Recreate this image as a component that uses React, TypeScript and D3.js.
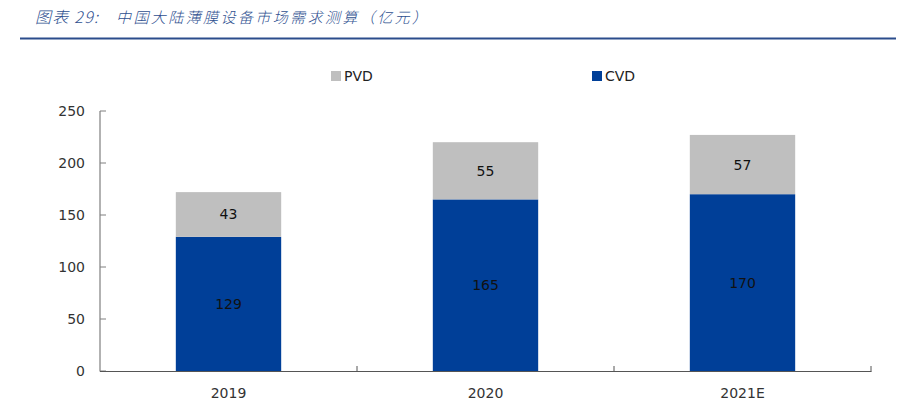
import React from "react";
import * as d3 from "d3";

const categories = ["2019", "2020", "2021E"];
const cvd = [129, 165, 170];
const pvd = [43, 55, 57];
const yTicks = [0, 50, 100, 150, 200, 250];
const seriesNames = ["PVD", "CVD"];
const titleLabel = "图表 29:";
const titleText = "中国大陆薄膜设备市场需求测算（亿元）";

const W = 898;
const H = 409;
const BLUE = "#003F98";
const GRAY = "#BFBFBF";
const FONT = "Tahoma, 'DejaVu Sans', Verdana, sans-serif";

export default function App() {
  const x = d3
    .scaleBand<string>()
    .domain(categories)
    .range([100, 871])
    .paddingInner(0.59)
    .paddingOuter(0.295);
  const y = d3.scaleLinear().domain([0, 250]).range([371, 111]);
  const step = x.step();
  const boundaries = categories.map((_, i) => 100 + step * (i + 1));

  return (
    <svg
      width={W}
      height={H}
      style={{ position: "absolute", left: 0, top: 0, background: "#fff" }}
      fontFamily={FONT}
    >
      <g fontStyle="italic" fill="#2E4F8F" fontFamily="'Noto Sans CJK SC', sans-serif" fontWeight={300}>
        <text x={35} y={23} fontSize={16} textLength={63} lengthAdjust="spacing">
          {titleLabel}
        </text>
        <text x={116} y={23} fontSize={15} textLength={311} lengthAdjust="spacing">
          {titleText}
        </text>
      </g>
      <line x1={20} x2={896} y1={38.5} y2={38.5} stroke="#2B4C8C" strokeWidth={2} />

      {/* legend */}
      <rect x={331} y={71} width={10} height={10} fill={GRAY} />
      <text x={344} y={81} fontSize={14} fill="#222">
        {seriesNames[0]}
      </text>
      <rect x={592} y={71} width={10} height={10} fill={BLUE} />
      <text x={605} y={81} fontSize={14} fill="#222">
        {seriesNames[1]}
      </text>

      {/* bars */}
      {categories.map((c, i) => {
        const x0 = x(c)!;
        const bw = x.bandwidth();
        const yC = y(cvd[i]);
        const yP = y(cvd[i] + pvd[i]);
        return (
          <g key={c}>
            <rect x={x0} y={yC} width={bw} height={y(0) - yC} fill={BLUE} />
            <rect x={x0} y={yP} width={bw} height={yC - yP} fill={GRAY} />
            <text
              x={x0 + bw / 2}
              y={(yC + y(0)) / 2 + 5}
              textAnchor="middle"
              fontSize={14}
              fill="#111"
            >
              {cvd[i]}
            </text>
            <text
              x={x0 + bw / 2}
              y={(yP + yC) / 2 + 5}
              textAnchor="middle"
              fontSize={14}
              fill="#111"
            >
              {pvd[i]}
            </text>
          </g>
        );
      })}

      {/* y axis */}
      <line x1={100} x2={100} y1={111} y2={371.5} stroke="#7F7F7F" strokeWidth={1.2} />
      {yTicks.map((t) => (
        <g key={t}>
          <line x1={100} x2={106} y1={y(t)} y2={y(t)} stroke="#7F7F7F" strokeWidth={1} />
          <text x={85} y={y(t) + 5} textAnchor="end" fontSize={14} fill="#333">
            {t}
          </text>
        </g>
      ))}

      {/* x axis */}
      <line x1={100} x2={871.5} y1={371.5} y2={371.5} stroke="#555" strokeWidth={1.2} />
      {boundaries.map((b, i) => (
        <line key={i} x1={b} x2={b} y1={371.5} y2={366} stroke="#555" strokeWidth={1} />
      ))}
      {categories.map((c) => (
        <text
          key={c}
          x={x(c)! + x.bandwidth() / 2}
          y={398}
          textAnchor="middle"
          fontSize={14}
          fill="#333"
        >
          {c}
        </text>
      ))}
    </svg>
  );
}
